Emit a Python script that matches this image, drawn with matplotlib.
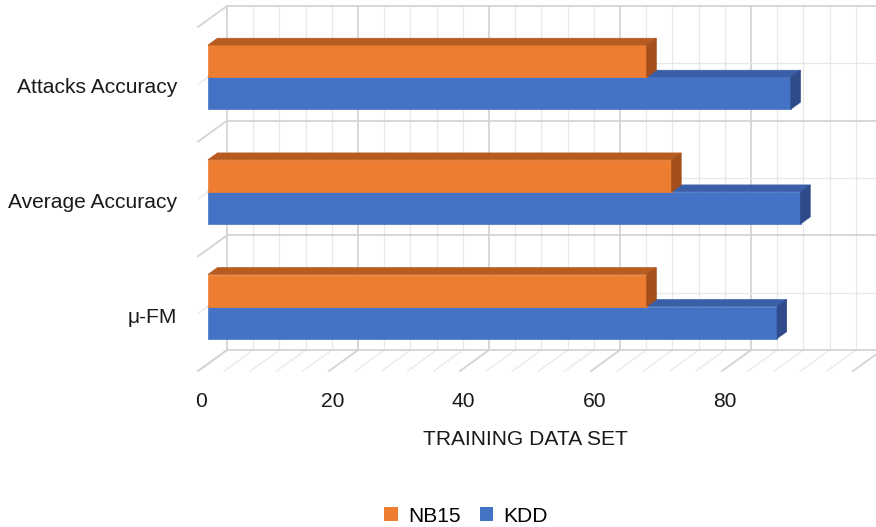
import matplotlib
matplotlib.use('Agg')
import matplotlib.pyplot as plt
from matplotlib.patches import Polygon, Patch

# data
categories = ['\u03bc-FM', 'Average Accuracy', 'Attacks Accuracy']
nb15 = [67.0, 70.8, 67.0]
kdd = [86.9, 90.5, 89.0]
ticks = [0, 20, 40, 60, 80]
xmax = 100

plt.rcParams['font.family'] = ['Liberation Sans', 'DejaVu Sans']

# pseudo 3d: depth z in [0, 1] shifts points right and up
DX = 4.43
DY = 0.183
Z0, Z1 = 0.34, 0.67
HALF = 0.279


def P(v, c, z):
    return (v + DX * z, c + DY * z)


fig = plt.figure(figsize=(8.76, 5.27), dpi=100)
ax = fig.add_axes([0, 0, 1, 1])
ax.set_xlim(-30.23, 103.51)
ax.set_ylim(-1.86, 2.735)
ax.axis('off')

major_c = '#d4d4d4'
minor_c = '#e8e8e8'
c_lo, c_hi = -0.5, len(categories) - 0.5

# back wall and floor grid
for v in range(0, xmax + 1, 4):
    col, lw = (major_c, 1.3) if v % 20 == 0 else (minor_c, 0.9)
    ax.plot(*zip(P(v, c_lo, 1), P(v, c_hi, 1)), color=col, lw=lw, zorder=1)
    ax.plot(*zip(P(v, c_lo, 0), P(v, c_lo, 1)), color=col, lw=lw, zorder=1)

# back wall rows and side wall diagonals
k = 0
c = c_lo
while c <= c_hi + 1e-9:
    col, lw = (major_c, 1.3) if k % 2 == 0 else (minor_c, 0.9)
    ax.plot(*zip(P(0, c, 1), P(xmax, c, 1)), color=col, lw=lw, zorder=1)
    ax.plot(*zip(P(0, c, 0), P(0, c, 1)), color=col, lw=lw, zorder=1)
    c += 0.5
    k += 1


def draw_bar(v, lo, hi, front, top, side):
    faces = [
        ([P(0, lo, Z0), P(v, lo, Z0), P(v, hi, Z0), P(0, hi, Z0)], front),
        ([P(0, hi, Z0), P(v, hi, Z0), P(v, hi, Z1), P(0, hi, Z1)], top),
        ([P(v, lo, Z0), P(v, lo, Z1), P(v, hi, Z1), P(v, hi, Z0)], side),
    ]
    for pts, col in faces:
        ax.add_patch(Polygon(pts, closed=True, facecolor=col, edgecolor=col,
                             lw=0.5, zorder=3))


for i in range(len(categories)):
    draw_bar(kdd[i], i - HALF, i, '#4472c4', '#3a5ea8', '#2f4b8a')
    draw_bar(nb15[i], i, i + HALF, '#ed7d31', '#b85b21', '#a44f1c')

# labels
for i, name in enumerate(categories):
    ax.text(-3.2, i - 0.03, name, ha='right', va='center', fontsize=15.1,
            color='#1a1a1a')
for t in ticks:
    ax.text(t + 0.5, -0.77, str(t), ha='center', va='center', fontsize=15.1,
            color='#1a1a1a')
ax.text(50, -1.10, 'TRAINING DATA SET', ha='center', va='center',
        fontsize=15.1, color='#1a1a1a')

handles = [Patch(facecolor='#ed7d31', label='NB15'),
           Patch(facecolor='#4472c4', label='KDD')]
fig.legend(handles=handles, loc='center', bbox_to_anchor=(0.532, 1 - 516 / 527),
           ncol=2, frameon=False, fontsize=15.1, handlelength=0.65,
           handleheight=0.65, handletextpad=0.5, columnspacing=0.9)

fig.savefig('out.png', dpi=100, facecolor='white')
